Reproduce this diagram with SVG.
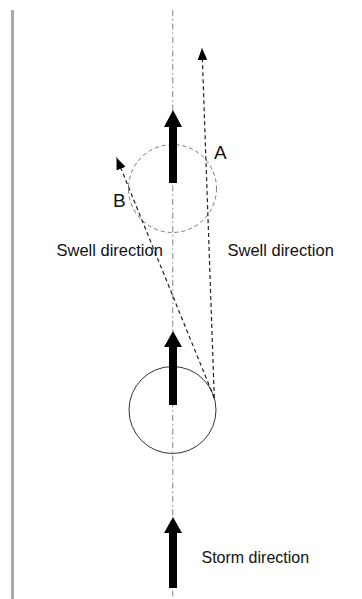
<svg xmlns="http://www.w3.org/2000/svg" width="362" height="599" viewBox="0 0 362 599">
  <defs>
    <style>
      .lbl { font-family: "Liberation Sans", Arial, sans-serif; fill: #111; }
      .big { font-size: 19px; }
      .mid { font-size: 16.5px; }
      .axis { stroke: #999; stroke-width: 1.2; stroke-dasharray: 6 3 1.5 3; fill: none; }
      .swell { stroke: #222; stroke-width: 1.2; stroke-dasharray: 4 3; fill: none; }
      .thick { fill: #000; }
    </style>
    <marker id="ah" markerUnits="userSpaceOnUse" markerWidth="12" markerHeight="12" viewBox="0 0 10 8" refX="10" refY="4" orient="auto">
      <path d="M0,0 L10,4 L0,8 Z" fill="#000"/>
    </marker>
  </defs>
  <rect width="362" height="599" fill="#fff"/>
  <rect id="bar" x="11" y="10" width="3" height="589" fill="#aaa"/>
  <g id="axis">
    <line class="axis" x1="172.7" y1="10" x2="172.7" y2="599"/>
  </g>
  <g id="circle-after">
    <circle cx="172.5" cy="188.5" r="44" fill="none" stroke="#777" stroke-width="1" stroke-dasharray="4 3"/>
  </g>
  <g id="circle-before">
    <circle cx="172.5" cy="410" r="43.5" fill="none" stroke="#333" stroke-width="1"/>
  </g>
  <g id="connectors">
    <line class="swell" x1="214.3" y1="398" x2="202" y2="48" marker-end="url(#ah)"/>
    <line class="swell" x1="214.3" y1="398" x2="116.5" y2="157.5" marker-end="url(#ah)"/>
  </g>
  <g id="arrow-top">
    <path class="thick" d="M173,110 L182,127 L177,127 L177,183 L169,183 L169,127 L164,127 Z"/>
  </g>
  <g id="arrow-middle">
    <path class="thick" d="M173,331 L182,347 L177,347 L177,405 L169,405 L169,347 L164,347 Z"/>
  </g>
  <g id="arrow-bottom">
    <path class="thick" d="M173,517 L182,533 L177,533 L177,588 L169,588 L169,533 L164,533 Z"/>
  </g>
  <g id="label-A"><text class="lbl big" x="214" y="159">A</text></g>
  <g id="label-B"><text class="lbl big" x="113" y="207">B</text></g>
  <g id="label-swell-left"><text class="lbl mid" x="56.5" y="256">Swell direction</text></g>
  <g id="label-swell-right"><text class="lbl mid" x="227.5" y="256">Swell direction</text></g>
  <g id="label-storm"><text class="lbl" font-size="16" x="201.5" y="563">Storm direction</text></g>
</svg>
